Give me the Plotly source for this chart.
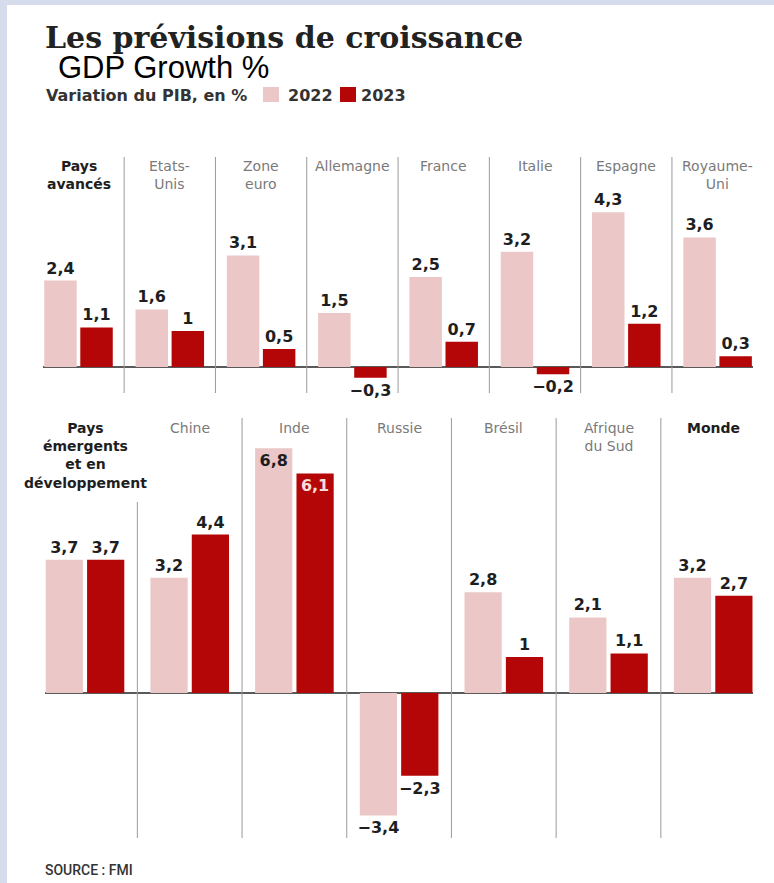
import plotly.graph_objects as go

W, H = 774, 883

# ---------------- data ----------------
cats_top = ["Pays avancés", "Etats-Unis", "Zone euro", "Allemagne", "France",
            "Italie", "Espagne", "Royaume-Uni"]
labels_top = ["Pays<br>avancés", "Etats-<br>Unis", "Zone<br>euro", "Allemagne",
              "France", "Italie", "Espagne", "Royaume-<br>Uni"]
top_2022 = [2.4, 1.6, 3.1, 1.5, 2.5, 3.2, 4.3, 3.6]
top_2023 = [1.1, 1.0, 0.5, -0.3, 0.7, -0.2, 1.2, 0.3]

cats_bot = ["Pays émergents et en développement", "Chine", "Inde", "Russie",
            "Brésil", "Afrique du Sud", "Monde"]
labels_bot = ["Pays<br>émergents<br>et en<br>développement", "Chine", "Inde",
              "Russie", "Brésil", "Afrique<br>du Sud", "Monde"]
bot_2022 = [3.7, 3.2, 6.8, -3.4, 2.8, 2.1, 3.2]
bot_2023 = [3.7, 4.4, 6.1, -2.3, 1.0, 1.1, 2.7]

bold_cats = {"Pays avancés", "Pays émergents et en développement", "Monde"}

C22 = "#ebc7c7"
C23 = "#b40606"
DARK = "#1e1e1e"
GREY = "#7a7a7a"


def fmt(v):
    s = f"{abs(v):g}".replace(".", ",")
    return ("−" + s) if v < 0 else s


def px(x):
    return x / W


def py(y):
    return 1 - y / H


fig = go.Figure()

valfont = dict(family="DejaVu Sans", size=16, color=DARK, weight="bold")


def add_bars(cats, v22, v23, xa, ya, inside_idx=()):
    for vals, name, col, incol in ((v22, "2022", C22, DARK), (v23, "2023", C23, "#f7dede")):
        pos = ["inside" if i in inside_idx else "outside" for i in range(len(vals))]
        fig.add_trace(go.Bar(
            x=cats, y=vals, name=name, marker=dict(color=col, line=dict(width=0)),
            text=[fmt(v) for v in vals], textposition=pos, insidetextanchor="end",
            textfont=valfont,
            insidetextfont=dict(family="DejaVu Sans", size=16, color=incol, weight="bold"),
            outsidetextfont=valfont,
            constraintext="none", cliponaxis=False, xaxis=xa, yaxis=ya,
            showlegend=False, hoverinfo="x+y"))


add_bars(cats_top, top_2022, top_2023, "x", "y")
add_bars(cats_bot, bot_2022, bot_2023, "x2", "y2", inside_idx=(2,))

# pixel geometry
top_y0, top_y1, top_zero = 155, 395, 367
bot_y0, bot_y1, bot_zero = 418, 838, 693
ppu = 36.0  # pixels per unit

top_l, top_r, top_c0, top_step = 43, 753, 78.5, 91.3
bot_l, bot_r, bot_c0, bot_step = 45, 753, 85.0, 104.7

axis_common = dict(showgrid=False, showticklabels=False, ticks="", showline=False,
                   fixedrange=True)

fig.update_layout(
    width=W, height=H, margin=dict(l=0, r=0, t=0, b=0),
    paper_bgcolor="white", plot_bgcolor="rgba(0,0,0,0)",
    barmode="group", bargap=0.21, bargroupgap=0.1,
    xaxis=dict(domain=[px(top_l), px(top_r)], type="category",
               range=[-(top_c0 - top_l) / top_step,
                      -(top_c0 - top_l) / top_step + (top_r - top_l) / top_step],
               anchor="y", **axis_common, zeroline=False),
    yaxis=dict(domain=[py(top_y1), py(top_y0)],
               range=[-(top_y1 - top_zero) / ppu, (top_zero - top_y0) / ppu],
               anchor="x", **axis_common, zeroline=True, zerolinecolor="#5a5a5a",
               zerolinewidth=1.5),
    xaxis2=dict(domain=[px(bot_l), px(bot_r)], type="category",
                range=[-(bot_c0 - bot_l) / bot_step,
                       -(bot_c0 - bot_l) / bot_step + (bot_r - bot_l) / bot_step],
                anchor="y2", **axis_common, zeroline=False),
    yaxis2=dict(domain=[py(bot_y1), py(bot_y0)],
                range=[-(bot_y1 - bot_zero) / ppu, (bot_zero - bot_y0) / ppu],
                anchor="x2", **axis_common, zeroline=True, zerolinecolor="#5a5a5a",
                zerolinewidth=1.5),
)

shapes = []
# frame (top + left light border)
shapes.append(dict(type="rect", xref="paper", yref="paper", x0=0, x1=1,
                   y0=py(5), y1=1, fillcolor="#d7dcec", line=dict(width=0),
                   layer="below"))
shapes.append(dict(type="rect", xref="paper", yref="paper", x0=0, x1=px(7),
                   y0=0, y1=1, fillcolor="#d7dcec", line=dict(width=0),
                   layer="below"))

# separators
for i in range(len(cats_top) - 1):
    shapes.append(dict(type="line", xref="x", yref="paper", x0=i + 0.5, x1=i + 0.5,
                       y0=py(393), y1=py(157), line=dict(color="#9a9a9a", width=1)))
for i in range(len(cats_bot) - 1):
    ytop = 502 if i == 0 else 418
    shapes.append(dict(type="line", xref="x2", yref="paper", x0=i + 0.5, x1=i + 0.5,
                       y0=py(838), y1=py(ytop), line=dict(color="#9a9a9a", width=1)))

# legend squares
shapes.append(dict(type="rect", xref="paper", yref="paper", x0=px(263), x1=px(279),
                   y0=py(102), y1=py(87), fillcolor=C22, line=dict(width=0)))
shapes.append(dict(type="rect", xref="paper", yref="paper", x0=px(340), x1=px(356),
                   y0=py(102), y1=py(87), fillcolor=C23, line=dict(width=0)))
fig.update_layout(shapes=shapes)

ann = []
ann.append(dict(text="<b>Les prévisions de croissance</b>", xref="paper", yref="paper",
                x=px(43), y=py(38), xanchor="left", yanchor="middle", showarrow=False,
                font=dict(family="DejaVu Serif", size=30, color="#222222")))
ann.append(dict(text="GDP Growth %", xref="paper", yref="paper",
                x=px(56), y=py(67), xanchor="left", yanchor="middle", showarrow=False,
                font=dict(family="Liberation Sans", size=31, color="#000000")))
ann.append(dict(text="<b>Variation du PIB, en %</b>", xref="paper", yref="paper",
                x=px(44), y=py(95), xanchor="left", yanchor="middle", showarrow=False,
                font=dict(family="DejaVu Sans", size=16, color="#333333")))
ann.append(dict(text="<b>2022</b>", xref="paper", yref="paper",
                x=px(286), y=py(95), xanchor="left", yanchor="middle", showarrow=False,
                font=dict(family="DejaVu Sans", size=16, color="#333333")))
ann.append(dict(text="<b>2023</b>", xref="paper", yref="paper",
                x=px(359), y=py(95), xanchor="left", yanchor="middle", showarrow=False,
                font=dict(family="DejaVu Sans", size=16, color="#333333")))

for i, (c, lab) in enumerate(zip(cats_top, labels_top)):
    b = c in bold_cats
    ann.append(dict(text=f"<b>{lab}</b>" if b else lab, xref="x", yref="paper",
                    x=i, y=py(156), xanchor="center", yanchor="top", showarrow=False,
                    align="center",
                    font=dict(family="DejaVu Sans", size=14, color=DARK if b else GREY)))
for i, (c, lab) in enumerate(zip(cats_bot, labels_bot)):
    b = c in bold_cats
    ann.append(dict(text=f"<b>{lab}</b>" if b else lab, xref="x2", yref="paper",
                    x=i, y=py(418), xanchor="center", yanchor="top", showarrow=False,
                    align="center",
                    font=dict(family="DejaVu Sans", size=14, color=DARK if b else GREY)))

ann.append(dict(text="SOURCE : FMI", xref="paper", yref="paper",
                x=px(43), y=py(870), xanchor="left", yanchor="middle", showarrow=False,
                font=dict(family="Roboto", size=14, color="#333333", weight=500)))
fig.update_layout(annotations=ann)

fig.write_html("out.html")
